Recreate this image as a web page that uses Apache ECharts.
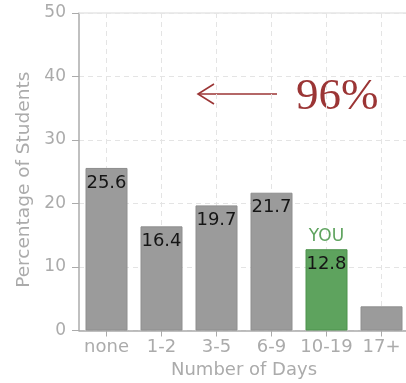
<!DOCTYPE html>
<html>
<head>
<meta charset="utf-8">
<script src="https://cdn.jsdelivr.net/npm/echarts@6/dist/echarts.min.js"></script>
<style>
  html, body { margin: 0; padding: 0; background: #fff; }
  #chart { width: 406px; height: 383px; }
</style>
</head>
<body>
<div id="chart"></div>
<script>
// Days of absence and share of students in each band
const categories = ['none', '1-2', '3-5', '6-9', '10-19', '17+'];
const percentages = [25.6, 16.4, 19.7, 21.7, 12.8, 3.8];
const youIndex = 4;
const yTicks = { min: 0, max: 50, step: 10 };
const calloutText = '96%';

const grey = '#9b9b9b';
const green = '#5ea35e';
const axisGrey = '#ababab';
const sans = '"DejaVu Sans", Verdana, sans-serif';

const chart = echarts.init(document.getElementById('chart'), null, { renderer: 'canvas' });

const barData = percentages.map((v, i) => ({
  value: v,
  itemStyle: i === youIndex
    ? { color: green, borderColor: '#4d924d', borderWidth: 1 }
    : { color: grey, borderColor: '#8e8e8e', borderWidth: 1 },
  label: { show: i !== categories.length - 1 }
}));

const youData = percentages.map((v, i) => i === youIndex ? v : '-');

chart.setOption({
  animation: false,
  grid: {
    left: 79, top: 13, width: 330, bottom: 52.5,
    containLabel: false,
    outerBoundsMode: 'none'
  },
  xAxis: [{
    type: 'category',
    data: categories,
    name: 'Number of Days',
    nameLocation: 'middle',
    nameGap: 30,
    nameTextStyle: { color: axisGrey, fontSize: 18, fontFamily: sans },
    axisLine: { show: true, lineStyle: { color: axisGrey, width: 1.5 } },
    axisTick: { show: true, alignWithLabel: true, length: 6, lineStyle: { color: axisGrey } },
    axisLabel: { color: axisGrey, fontSize: 18, margin: 8, interval: 0, fontFamily: sans },
    splitLine: { show: true, alignWithLabel: true, lineStyle: { color: '#e4e4e4', type: [5, 4], width: 1 } }
  }, {
    type: 'category',
    data: categories,
    position: 'top',
    axisLine: { show: true, lineStyle: { color: '#e6e6e6', width: 1.5 } },
    axisTick: { show: false },
    axisLabel: { show: false },
    splitLine: { show: false }
  }],
  yAxis: {
    type: 'value',
    min: yTicks.min,
    max: yTicks.max,
    interval: yTicks.step,
    name: 'Percentage of Students',
    nameLocation: 'middle',
    nameGap: 38,
    nameTextStyle: { color: axisGrey, fontSize: 18.5, fontFamily: sans, padding: [0, 16, 0, 0] },
    axisLine: { show: true, lineStyle: { color: axisGrey, width: 1.5 } },
    axisTick: { show: true, length: 7, lineStyle: { color: axisGrey } },
    axisLabel: { color: axisGrey, fontSize: 17, margin: 13, fontFamily: sans },
    splitLine: { show: true, lineStyle: { color: '#e4e4e4', type: [5, 4], width: 1 } }
  },
  series: [{
    type: 'bar',
    data: barData,
    barWidth: 42,
    label: {
      show: true,
      position: 'insideTop',
      distance: 6,
      color: '#151515',
      fontSize: 18,
      fontFamily: sans
    },
    z: 2
  }, {
    type: 'bar',
    data: youData,
    barWidth: 42,
    barGap: '-100%',
    itemStyle: { color: 'transparent' },
    label: {
      show: true,
      position: 'top',
      distance: 4,
      formatter: 'YOU',
      color: green,
      fontSize: 17,
      fontFamily: sans
    },
    silent: true,
    z: 3
  }],
  graphic: [{
    type: 'group',
    children: [{
      type: 'line',
      shape: { x1: 198, y1: 94, x2: 277, y2: 94 },
      style: { stroke: '#9b3535', lineWidth: 1.6 }
    }, {
      type: 'polyline',
      shape: { points: [[214, 84], [198, 94], [214, 104]] },
      style: { stroke: '#9b3535', lineWidth: 1.6, fill: null }
    }, {
      type: 'text',
      left: 296,
      top: 75,
      style: {
        text: calloutText,
        fill: '#9b3535',
        font: '45px "Liberation Serif", "DejaVu Serif", serif'
      }
    }]
  }]
});
</script>
</body>
</html>
